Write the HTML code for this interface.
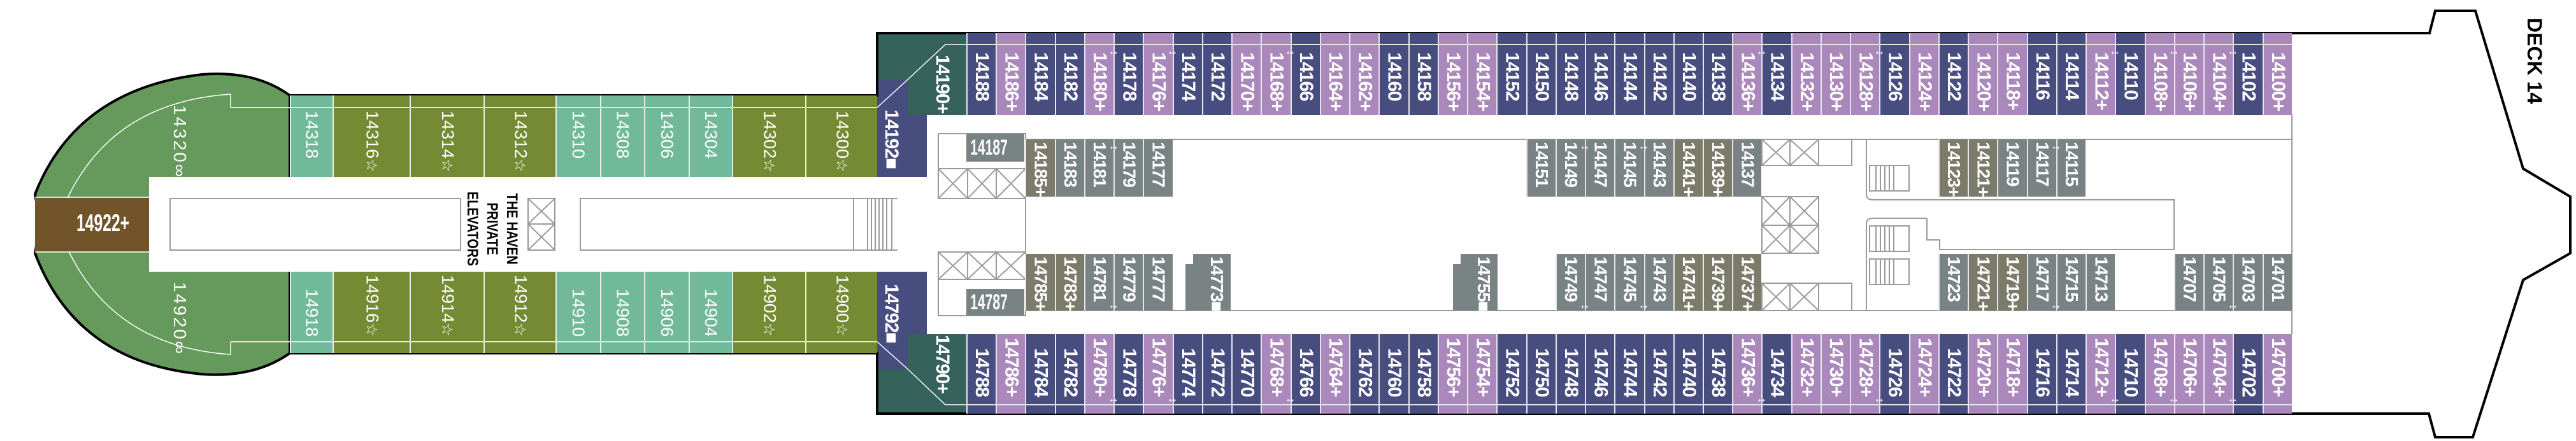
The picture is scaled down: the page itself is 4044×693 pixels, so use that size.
<!DOCTYPE html>
<html><head><meta charset="utf-8"><style>
body{margin:0;width:4044px;height:693px;background:#fff;position:relative;overflow:hidden;font-family:"Liberation Sans",sans-serif}
svg{position:absolute;left:0;top:0}
.c{position:absolute;box-sizing:border-box;width:46.24px;left:calc(1517px + var(--i)*46.24px);border-left:2px solid #e8e4ef;writing-mode:vertical-rl;text-orientation:sideways;color:#fff;font-weight:bold;font-size:30px;letter-spacing:-1.5px;line-height:44px;text-align:center;white-space:nowrap}
.t{top:52px;height:129px;padding-top:30px;text-align:start}
.b{top:525px;height:125px;padding-bottom:27px;text-align:end}
.it{top:219px;height:90px;padding-top:4px;text-align:start;font-size:28px}
.ib{top:399px;height:89px;padding-top:4px;text-align:start;font-size:28px}
.n{background:#484d80}.p{background:#ab88bb}.g{background:#7a8383}.w{background:#7b7b6a}
.ar{position:absolute;color:#fff;font-size:18px;font-weight:bold;transform:translateX(-50%);left:calc(1517px + var(--i)*46.24px)}
.h{position:absolute;box-sizing:border-box;border-left:2px solid #e8efe4;color:#fff;font-size:27px;display:flex;justify-content:center}
.h span{writing-mode:vertical-rl;text-orientation:sideways;white-space:nowrap;line-height:34px}
.h span i{font-style:normal;font-size:24px}
.ht{top:150px;height:128px;padding-top:24px;align-items:flex-start}
.hb{top:427px;height:128px;padding-bottom:26px;align-items:flex-end}
.o{background:#758a33}.q{background:#72b99a}
.band{position:absolute;height:2px;background:#e6e6ee}
.v{position:absolute;writing-mode:vertical-rl;text-orientation:sideways;white-space:nowrap}
</style></head><body>
<svg width="4044" height="693">
<path d="M455,150 Q400,110 317,117 Q120,140 55,305 Q64,352 55,398 Q120,570 317,588 Q400,594 455,555 Z" fill="#66995c" stroke="#000" stroke-width="4"/>
<path d="M362,169 L362,148 Q180,160 107,309 L107,393 Q180,545 362,557 L362,537" fill="none" stroke="#fff" stroke-width="1.5"/>
<rect x="55" y="311" width="179" height="84" fill="#71542a"/>
<line x1="55" y1="310" x2="234" y2="310" stroke="#fff" stroke-width="1.5"/>
<line x1="55" y1="396" x2="234" y2="396" stroke="#fff" stroke-width="1.5"/>
<rect x="234" y="278" width="1143" height="149" fill="#fff"/>
<polygon points="1377,52 1517,52 1517,181 1425,181 1425,125 1377,125" fill="#35625a"/>
<polygon points="1377,125 1425,125 1425,181 1455,181 1455,278 1377,278" fill="#484d80"/>
<polygon points="1377,427 1455,427 1455,525 1425,525 1425,580 1377,580" fill="#484d80"/>
<polygon points="1425,525 1517,525 1517,650 1377,650 1377,580 1425,580" fill="#35625a"/>
<polyline points="1517,70 1484,70 1425,125 1377,169" fill="none" stroke="#fff" stroke-width="1.5"/>
<polyline points="1517,636 1484,636 1425,580 1377,537" fill="none" stroke="#fff" stroke-width="1.5"/>
<path d="M455,150 L1377,150 L1377,52 L3814,52 L3823,17 L3886,17 L3961,265 L4035,309 L4035,398 L3961,440 L3882,687 L3823,687 L3813,650 L1377,650 L1377,555 L455,555" fill="none" stroke="#000" stroke-width="4"/>
<g fill="none" stroke="#9a9a9a" stroke-width="2">
<rect x="267" y="312" width="456" height="81"/>
<rect x="829" y="312" width="42" height="40"/><rect x="829" y="352" width="42" height="41"/>
<path d="M829,312 L871,352 M871,312 L829,352 M829,352 L871,393 M871,352 L829,393"/>
<rect x="911" y="312" width="429" height="81"/>
<rect x="1340" y="312" width="60" height="81"/>
<path d="M1350,312 L1409,312 M1350,393 L1409,393 M1362,312 V393 M1368,312 V393 M1374,312 V393 M1380,312 V393 M1386,312 V393 M1392,312 V393"/>
<path d="M1473,210 L1610,210 L1610,219 L3598,219 M3598,181 V525 M1473,210 V312 L1610,312 V396 M1473,396 L1610,396 M1473,396 V496 L1610,496 V488 L3598,488"/>
<rect x="1473" y="265" width="46" height="47"/><rect x="1519" y="265" width="45" height="47"/><rect x="1564" y="265" width="46" height="47"/>
<path d="M1473,265 L1519,312 M1519,265 L1473,312 M1519,265 L1564,312 M1564,265 L1519,312 M1564,265 L1610,312 M1610,265 L1564,312"/>
<rect x="1473" y="396" width="46" height="43"/><rect x="1519" y="396" width="45" height="43"/><rect x="1564" y="396" width="46" height="43"/>
<path d="M1473,396 L1519,439 M1519,396 L1473,439 M1519,396 L1564,439 M1564,396 L1519,439 M1564,396 L1610,439 M1610,396 L1564,439"/>
<rect x="2766" y="219" width="44" height="41"/><rect x="2810" y="219" width="45" height="41"/><rect x="2855" y="219" width="52" height="41"/>
<path d="M2766,219 L2810,260 M2810,219 L2766,260 M2810,219 L2855,260 M2855,219 L2810,260"/>
<rect x="2766" y="309" width="44" height="45"/><rect x="2810" y="309" width="45" height="45"/><rect x="2766" y="354" width="44" height="44"/><rect x="2810" y="354" width="45" height="44"/>
<path d="M2766,309 L2810,354 M2810,309 L2766,354 M2810,309 L2855,354 M2855,309 L2810,354 M2766,354 L2810,398 M2810,354 L2766,398 M2810,354 L2855,398 M2855,354 L2810,398"/>
<rect x="2766" y="445" width="44" height="43"/><rect x="2810" y="445" width="45" height="43"/><rect x="2855" y="445" width="52" height="43"/>
<path d="M2766,445 L2810,488 M2810,445 L2766,488 M2810,445 L2855,488 M2855,445 L2810,488"/>
<path d="M2930,219 V305 Q2930,314 2940,314 L3413,314 V392 L3045,392 V377 L3025,377 V343 L2940,343 Q2930,343 2930,352 V488"/>
<rect x="2935" y="260" width="62" height="40"/><rect x="2935" y="355" width="62" height="40"/><rect x="2935" y="407" width="62" height="40"/>
<path d="M2945,260 V300 M2952,260 V300 M2959,260 V300 M2966,260 V300 M2973,260 V300 M2945,355 V395 M2952,355 V395 M2959,355 V395 M2966,355 V395 M2973,355 V395 M2945,407 V447 M2952,407 V447 M2959,407 V447 M2966,407 V447 M2973,407 V447"/>
</g>
</svg>

<!-- Haven cabins -->
<div class="h ht q" style="left:455px;width:67px"><span>14318</span></div>
<div class="h ht o" style="left:522px;width:121px"><span>14316<i>☆</i></span></div>
<div class="h ht o" style="left:643px;width:116px"><span>14314<i>☆</i></span></div>
<div class="h ht o" style="left:759px;width:113px"><span>14312<i>☆</i></span></div>
<div class="h ht q" style="left:872px;width:70px"><span>14310</span></div>
<div class="h ht q" style="left:942px;width:69px"><span>14308</span></div>
<div class="h ht q" style="left:1011px;width:70px"><span>14306</span></div>
<div class="h ht q" style="left:1081px;width:68px"><span>14304</span></div>
<div class="h ht o" style="left:1149px;width:115px"><span>14302<i>☆</i></span></div>
<div class="h ht o" style="left:1264px;width:113px"><span>14300<i>☆</i></span></div>
<div class="h hb q" style="left:455px;width:67px"><span>14918</span></div>
<div class="h hb o" style="left:522px;width:121px"><span>14916<i>☆</i></span></div>
<div class="h hb o" style="left:643px;width:116px"><span>14914<i>☆</i></span></div>
<div class="h hb o" style="left:759px;width:113px"><span>14912<i>☆</i></span></div>
<div class="h hb q" style="left:872px;width:70px"><span>14910</span></div>
<div class="h hb q" style="left:942px;width:69px"><span>14908</span></div>
<div class="h hb q" style="left:1011px;width:70px"><span>14906</span></div>
<div class="h hb q" style="left:1081px;width:68px"><span>14904</span></div>
<div class="h hb o" style="left:1149px;width:115px"><span>14902<i>☆</i></span></div>
<div class="h hb o" style="left:1264px;width:113px"><span>14900<i>☆</i></span></div>
<div class="band" style="left:362px;width:1015px;top:168px"></div>
<div class="band" style="left:362px;width:1015px;top:536px"></div>
<div class="v" style="left:262px;top:165px;color:#fff;font-size:28px;line-height:40px;letter-spacing:3px">14320∞</div>
<div class="v" style="left:262px;top:443px;color:#fff;font-size:28px;line-height:40px;letter-spacing:3px">14920∞</div>
<div style="position:absolute;left:120px;top:330px;color:#fff;font-size:38px;font-weight:bold;transform:scaleX(.65);transform-origin:left top">14922+</div>
<div class="v" style="left:726px;top:301px;color:#000;font-weight:bold;font-size:24px;line-height:31px;text-align:center;transform:scaleY(.82);transform-origin:top">THE HAVEN<br>PRIVATE<br>ELEVATORS</div>

<!-- left main block labels -->
<div class="v" style="left:1463px;top:86px;color:#fff;font-weight:bold;font-size:30px;letter-spacing:-1.5px;line-height:32px">14190+</div>
<div class="v" style="left:1383px;top:172px;color:#fff;font-weight:bold;font-size:30px;letter-spacing:-1.5px;line-height:32px">14192■</div>
<div class="v" style="left:1383px;top:446px;color:#fff;font-weight:bold;font-size:30px;letter-spacing:-1.5px;line-height:32px">14792■</div>
<div class="v" style="left:1463px;top:526px;color:#fff;font-weight:bold;font-size:30px;letter-spacing:-1.5px;line-height:32px">14790+</div>

<!-- top row -->
<div class="c t n" style="--i:0">14188</div><div class="c t p" style="--i:1">14186+</div><div class="c t n" style="--i:2">14184</div><div class="c t n" style="--i:3">14182</div><div class="c t p" style="--i:4">14180+</div><div class="c t n" style="--i:5">14178</div><div class="c t p" style="--i:6">14176+</div><div class="c t n" style="--i:7">14174</div><div class="c t n" style="--i:8">14172</div><div class="c t p" style="--i:9">14170+</div><div class="c t p" style="--i:10">14168+</div><div class="c t n" style="--i:11">14166</div><div class="c t p" style="--i:12">14164+</div><div class="c t p" style="--i:13">14162+</div><div class="c t n" style="--i:14">14160</div><div class="c t n" style="--i:15">14158</div><div class="c t p" style="--i:16">14156+</div><div class="c t p" style="--i:17">14154+</div><div class="c t n" style="--i:18">14152</div><div class="c t n" style="--i:19">14150</div><div class="c t n" style="--i:20">14148</div><div class="c t n" style="--i:21">14146</div><div class="c t n" style="--i:22">14144</div><div class="c t n" style="--i:23">14142</div><div class="c t n" style="--i:24">14140</div><div class="c t n" style="--i:25">14138</div><div class="c t p" style="--i:26">14136+</div><div class="c t n" style="--i:27">14134</div><div class="c t p" style="--i:28">14132+</div><div class="c t p" style="--i:29">14130+</div><div class="c t p" style="--i:30">14128+</div><div class="c t n" style="--i:31">14126</div><div class="c t p" style="--i:32">14124+</div><div class="c t n" style="--i:33">14122</div><div class="c t p" style="--i:34">14120+</div><div class="c t p" style="--i:35">14118+</div><div class="c t n" style="--i:36">14116</div><div class="c t n" style="--i:37">14114</div><div class="c t p" style="--i:38">14112+</div><div class="c t n" style="--i:39">14110</div><div class="c t p" style="--i:40">14108+</div><div class="c t p" style="--i:41">14106+</div><div class="c t p" style="--i:42">14104+</div><div class="c t n" style="--i:43">14102</div><div class="c t p" style="--i:44">14100+</div>
<!-- bottom row -->
<div class="c b n" style="--i:0">14788</div><div class="c b p" style="--i:1">14786+</div><div class="c b n" style="--i:2">14784</div><div class="c b n" style="--i:3">14782</div><div class="c b p" style="--i:4">14780+</div><div class="c b n" style="--i:5">14778</div><div class="c b p" style="--i:6">14776+</div><div class="c b n" style="--i:7">14774</div><div class="c b n" style="--i:8">14772</div><div class="c b n" style="--i:9">14770</div><div class="c b p" style="--i:10">14768+</div><div class="c b n" style="--i:11">14766</div><div class="c b p" style="--i:12">14764+</div><div class="c b n" style="--i:13">14762</div><div class="c b n" style="--i:14">14760</div><div class="c b n" style="--i:15">14758</div><div class="c b p" style="--i:16">14756+</div><div class="c b p" style="--i:17">14754+</div><div class="c b n" style="--i:18">14752</div><div class="c b n" style="--i:19">14750</div><div class="c b n" style="--i:20">14748</div><div class="c b n" style="--i:21">14746</div><div class="c b n" style="--i:22">14744</div><div class="c b n" style="--i:23">14742</div><div class="c b n" style="--i:24">14740</div><div class="c b n" style="--i:25">14738</div><div class="c b p" style="--i:26">14736+</div><div class="c b n" style="--i:27">14734</div><div class="c b p" style="--i:28">14732+</div><div class="c b p" style="--i:29">14730+</div><div class="c b p" style="--i:30">14728+</div><div class="c b n" style="--i:31">14726</div><div class="c b p" style="--i:32">14724+</div><div class="c b n" style="--i:33">14722</div><div class="c b p" style="--i:34">14720+</div><div class="c b p" style="--i:35">14718+</div><div class="c b n" style="--i:36">14716</div><div class="c b n" style="--i:37">14714</div><div class="c b p" style="--i:38">14712+</div><div class="c b n" style="--i:39">14710</div><div class="c b p" style="--i:40">14708+</div><div class="c b p" style="--i:41">14706+</div><div class="c b p" style="--i:42">14704+</div><div class="c b n" style="--i:43">14702</div><div class="c b p" style="--i:44">14700+</div>
<div class="band" style="left:1517px;width:2081px;top:69px"></div>
<div class="band" style="left:1517px;width:2081px;top:635px"></div>

<!-- interior top -->
<div style="position:absolute;left:1517px;top:210px;width:91px;height:44px;background:#7a8383;color:#fff;font-size:34px;font-weight:bold;line-height:44px"><span style="display:inline-block;transform:scaleX(.62);transform-origin:left;padding-left:10px">14187</span></div>
<div class="c it w" style="--i:2">14185+</div><div class="c it g" style="--i:3">14183</div><div class="c it g" style="--i:4">14181</div><div class="c it g" style="--i:5">14179</div><div class="c it g" style="--i:6">14177</div>
<div class="c it g" style="--i:19">14151</div><div class="c it g" style="--i:20">14149</div><div class="c it g" style="--i:21">14147</div><div class="c it g" style="--i:22">14145</div><div class="c it g" style="--i:23">14143</div><div class="c it w" style="--i:24">14141+</div><div class="c it w" style="--i:25">14139+</div><div class="c it g" style="--i:26">14137</div>
<div class="c it w" style="--i:33">14123+</div><div class="c it w" style="--i:34">14121+</div><div class="c it g" style="--i:35">14119</div><div class="c it g" style="--i:36">14117</div><div class="c it g" style="--i:37">14115</div>
<!-- interior bottom -->
<div style="position:absolute;left:1517px;top:454px;width:91px;height:42px;background:#7a8383;color:#fff;font-size:34px;font-weight:bold;line-height:42px"><span style="display:inline-block;transform:scaleX(.62);transform-origin:left;padding-left:10px">14787</span></div>
<div class="c ib w" style="--i:2">14785+</div><div class="c ib w" style="--i:3">14783+</div><div class="c ib g" style="--i:4">14781</div><div class="c ib g" style="--i:5">14779</div><div class="c ib g" style="--i:6">14777</div>
<div style="position:absolute;left:1861px;top:415px;width:14px;height:73px;background:#7a8383"></div>
<div class="c ib g" style="left:1873px;width:59px;border:0">14773■</div>
<div style="position:absolute;left:2281px;top:415px;width:14px;height:73px;background:#7a8383"></div>
<div class="c ib g" style="left:2293px;width:58px;border:0">14755■</div>
<div class="c ib g" style="--i:20">14749</div><div class="c ib g" style="--i:21">14747</div><div class="c ib g" style="--i:22">14745</div><div class="c ib g" style="--i:23">14743</div><div class="c ib w" style="--i:24">14741+</div><div class="c ib w" style="--i:25">14739+</div><div class="c ib w" style="--i:26">14737+</div>
<div class="c ib g" style="--i:33">14723</div><div class="c ib w" style="--i:34">14721+</div><div class="c ib w" style="--i:35">14719+</div><div class="c ib g" style="--i:36">14717</div><div class="c ib g" style="--i:37">14715</div><div class="c ib g" style="--i:38">14713</div>
<div class="c ib g" style="--i:41">14707</div><div class="c ib g" style="--i:42">14705</div><div class="c ib g" style="--i:43">14703</div><div class="c ib g" style="--i:44">14701</div>

<!-- arrows -->
<div class="ar" style="--i:5;top:70px">↔</div><div class="ar" style="--i:7;top:70px">↔</div><div class="ar" style="--i:11;top:70px">↔</div><div class="ar" style="--i:27;top:70px">↔</div><div class="ar" style="--i:31;top:70px">↔</div><div class="ar" style="--i:39;top:70px">↔</div><div class="ar" style="--i:41;top:70px">↔</div><div class="ar" style="--i:43;top:70px">↔</div>
<div class="ar" style="--i:5;top:616px">↔</div><div class="ar" style="--i:7;top:616px">↔</div><div class="ar" style="--i:11;top:616px">↔</div><div class="ar" style="--i:27;top:616px">↔</div><div class="ar" style="--i:31;top:616px">↔</div><div class="ar" style="--i:39;top:616px">↔</div><div class="ar" style="--i:41;top:616px">↔</div><div class="ar" style="--i:43;top:616px">↔</div>
<div class="ar" style="--i:5;top:219px">↔</div><div class="ar" style="--i:21;top:219px">↔</div><div class="ar" style="--i:23;top:219px">↔</div><div class="ar" style="--i:37;top:219px">↔</div>
<div class="ar" style="--i:5;top:469px">↔</div><div class="ar" style="--i:21;top:469px">↔</div><div class="ar" style="--i:23;top:469px">↔</div><div class="ar" style="--i:37;top:469px">↔</div><div class="ar" style="--i:43;top:469px">↔</div>

<div class="v" style="left:3963px;top:28px;color:#000;font-weight:bold;font-size:32px;line-height:32px">DECK 14</div>
</body></html>
